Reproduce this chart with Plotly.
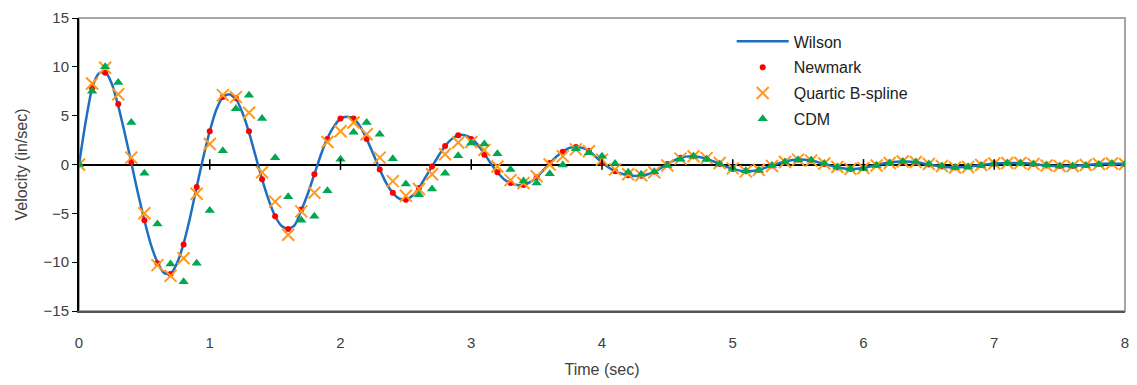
import plotly.graph_objects as go

# ---------------- data ----------------
t_fine = [0.0, 0.05, 0.1, 0.15, 0.2, 0.25, 0.3, 0.35, 0.4, 0.45, 0.5, 0.55, 0.6, 0.65, 0.7, 0.75,
          0.8, 0.85, 0.9, 0.95, 1.0, 1.05, 1.1, 1.15, 1.2, 1.25, 1.3, 1.35, 1.4, 1.45, 1.5, 1.55,
          1.6, 1.65, 1.7, 1.75, 1.8, 1.85, 1.9, 1.95, 2.0, 2.05, 2.1, 2.15, 2.2, 2.25, 2.3, 2.35,
          2.4, 2.45, 2.5, 2.55, 2.6, 2.65, 2.7, 2.75, 2.8, 2.85, 2.9, 2.95, 3.0, 3.05, 3.1, 3.15,
          3.2, 3.25, 3.3, 3.35, 3.4, 3.45, 3.5, 3.55, 3.6, 3.65, 3.7, 3.75, 3.8, 3.85, 3.9, 3.95,
          4.0, 4.1, 4.2, 4.3, 4.4, 4.5, 4.6, 4.7, 4.8, 4.9, 5.0, 5.1, 5.2, 5.3, 5.4, 5.5, 5.6,
          5.7, 5.8, 5.9, 6.0, 6.1, 6.2, 6.3, 6.4, 6.5, 6.6, 6.7, 6.8, 6.9, 7.0, 7.1, 7.2, 7.3,
          7.4, 7.5, 7.6, 7.7, 7.8, 7.9, 8.0]
wilson = [0.0, 4.3, 7.8, 9.3, 9.5, 8.3, 6.0, 3.2, 0.2, -2.9, -5.7, -8.2, -10.0, -11.1, -11.2, -10.1,
          -8.1, -5.4, -2.3, 0.7, 3.4, 5.6, 6.9, 7.2, 6.7, 5.3, 3.3, 0.9, -1.5, -3.6, -5.3, -6.3,
          -6.6, -6.2, -4.7, -3.0, -1.0, 1.0, 2.7, 3.9, 4.7, 4.9, 4.7, 3.9, 2.6, 1.1, -0.5, -1.9,
          -2.9, -3.5, -3.6, -3.2, -2.4, -1.3, -0.2, 0.9, 1.9, 2.6, 3.0, 3.0, 2.7, 2.0, 1.1, 0.1,
          -0.8, -1.5, -1.9, -2.1, -2.1, -1.8, -1.3, -0.6, 0.1, 0.8, 1.3, 1.7, 1.8, 1.7, 1.4, 0.8,
          0.2, -0.7, -1.1, -1.15, -0.75, 0.05, 0.7, 0.85, 0.6, 0.05, -0.45, -0.7, -0.55, -0.1, 0.3,
          0.5, 0.4, 0.05, -0.3, -0.45, -0.35, -0.05, 0.2, 0.3, 0.25, 0.0, -0.2, -0.3, -0.2, -0.05,
          0.1, 0.15, 0.15, 0.05, -0.1, -0.15, -0.15, -0.05, 0.05, 0.1, 0.05]

t_step = [round(0.1 * i, 1) for i in range(81)]
newmark = [0.0, 7.8, 9.4, 6.2, 0.25, -5.7, -10.1, -11.2, -8.2, -2.3, 3.4, 6.9, 6.8, 3.4, -1.5, -5.3,
           -6.6, -4.6, -1.0, 2.6, 4.7, 4.7, 2.6, -0.5, -2.9, -3.6, -2.4, -0.2, 1.9, 3.0, 2.6, 1.0,
           -0.8, -1.9, -2.1, -1.3, 0.15, 1.3, 1.8, 1.4, 0.15, -0.7, -1.1, -1.15, -0.75, 0.05, 0.7,
           0.85, 0.6, 0.05, -0.45, -0.7, -0.55, -0.1, 0.3, 0.5, 0.4, 0.05, -0.3, -0.45, -0.35, -0.05,
           0.2, 0.3, 0.25, 0.0, -0.2, -0.3, -0.2, -0.05, 0.1, 0.15, 0.15, 0.05, -0.1, -0.15, -0.15,
           -0.05, 0.05, 0.1, 0.05]
quartic = [0.0, 8.3, 9.9, 7.2, 0.7, -5.0, -10.3, -11.4, -9.6, -3.0, 2.1, 7.1, 6.9, 5.3, -0.8, -3.8,
           -7.2, -4.8, -2.9, 2.3, 3.4, 4.3, 3.1, 0.7, -1.7, -3.2, -2.5, -1.0, 1.05, 2.25, 2.3, 1.5,
           -0.2, -1.6, -1.9, -1.2, 0.0, 0.85, 1.55, 1.35, 0.5, -0.5, -1.0, -1.1, -0.8, -0.1, 0.6,
           0.85, 0.65, 0.15, -0.4, -0.7, -0.55, -0.15, 0.25, 0.5, 0.4, 0.1, -0.25, -0.45, -0.35,
           -0.1, 0.15, 0.3, 0.25, 0.05, -0.15, -0.3, -0.25, -0.05, 0.1, 0.15, 0.15, 0.05, -0.1,
           -0.15, -0.15, -0.05, 0.05, 0.1, 0.05]
cdm = [0.0, 7.5, 10.0, 8.4, 4.3, -0.9, -6.1, -10.2, -12.0, -10.1, -4.7, 1.4, 5.7, 7.1, 4.7, 0.7,
       -3.3, -5.7, -5.3, -2.7, 0.55, 3.3, 4.3, 3.1, 0.6, -2.0, -3.1, -2.5, -0.9, 0.9, 2.2, 2.1,
       1.1, -0.5, -1.7, -1.9, -0.95, -0.05, 1.6, 1.2, 0.85, 0.1, -0.8, -1.0, -0.75, -0.1, 0.55,
       0.85, 0.55, 0.05, -0.4, -0.65, -0.6, -0.1, 0.25, 0.45, 0.45, 0.1, -0.25, -0.45, -0.4,
       -0.1, 0.15, 0.3, 0.25, 0.05, -0.15, -0.3, -0.25, -0.1, 0.05, 0.15, 0.15, 0.05, -0.05,
       -0.15, -0.15, -0.1, 0.0, 0.1, 0.05]

x_ticks = [0, 1, 2, 3, 4, 5, 6, 7, 8]
y_ticks = [-15, -10, -5, 0, 5, 10, 15]

FONT = "Liberation Sans"
TXT = "#404040"

fig = go.Figure()
fig.add_trace(go.Scatter(x=t_fine, y=wilson, mode="lines", name="Wilson", legendgroup="a",
                         line=dict(color="#1F6FC0", width=2.5, shape="spline", smoothing=0.6)))
fig.add_trace(go.Scatter(x=t_step, y=newmark, mode="markers", name="Newmark", legendgroup="b",
                         marker=dict(color="#FF0000", size=6, symbol="circle")))
fig.add_trace(go.Scatter(x=t_step, y=quartic, mode="markers", name="Quartic B-spline", legendgroup="c",
                         marker=dict(symbol="x-thin", size=12, line=dict(color="#FF9A1E", width=2))))
fig.add_trace(go.Scatter(x=t_step, y=cdm, mode="markers", name="CDM", legendgroup="d",
                         marker=dict(color="#00A84F", size=9, symbol="triangle-up")))

shapes = [dict(type="rect", xref="paper", yref="paper", x0=0, x1=1, y0=0, y1=1,
               line=dict(color="#A6A6A6", width=2), layer="below")]
for xv in x_ticks[1:-1]:
    shapes.append(dict(type="line", xref="x", yref="y", x0=xv, x1=xv, y0=-0.55, y1=0.55,
                       line=dict(color="black", width=1.5)))
fig.update_layout(shapes=shapes)

fig.update_layout(
    width=1137, height=385,
    margin=dict(l=79, r=12, t=18, b=74),
    plot_bgcolor="white", paper_bgcolor="white",
    font=dict(family=FONT, color=TXT, size=15),
    showlegend=True,
    legend=dict(x=0.624, y=0.978, xanchor="left", yanchor="top", bgcolor="rgba(0,0,0,0)",
                font=dict(family=FONT, size=16, color="#222"), tracegroupgap=2,
                traceorder="grouped", itemwidth=52),
    xaxis=dict(range=[0, 8], tickvals=x_ticks, showgrid=False, zeroline=False, automargin=False,
               showline=True, linecolor="#555555", linewidth=1.5, ticks="",
               ticklabelstandoff=17, tickfont=dict(size=15, color=TXT),
               title=dict(text="Time (sec)", font=dict(size=16, color=TXT), standoff=14)),
    yaxis=dict(range=[-15, 15], tickvals=y_ticks, showgrid=False, zeroline=True, automargin=False,
               zerolinecolor="black", zerolinewidth=2,
               showline=True, linecolor="black", linewidth=2, ticks="outside", ticklen=5,
               tickcolor="black", tickfont=dict(size=15, color=TXT),
               title=dict(text="Velocity (in/sec)", font=dict(size=16, color=TXT), standoff=12)),
)

fig.write_html("out.html")
